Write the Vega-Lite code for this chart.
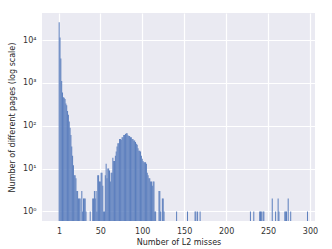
{
  "$schema": "https://vega.github.io/schema/vega-lite/v6.json",
  "width": 273,
  "height": 208,
  "autosize": "none",
  "padding": {"left": 42, "top": 13, "right": 17, "bottom": 28},
  "background": "white",
  "config": {
    "view": {"fill": "#EAEAF2", "stroke": null},
    "font": "DejaVu Sans",
    "axis": {
      "domain": false,
      "ticks": false,
      "grid": true,
      "gridColor": "white",
      "gridWidth": 1.2,
      "labelFont": "DejaVu Sans",
      "labelFontSize": 8,
      "labelColor": "#333333",
      "titleFont": "DejaVu Sans",
      "titleFontSize": 8,
      "titleFontWeight": "normal",
      "titleColor": "#262626"
    }
  },
  "data": {
    "values": [
      {"v": 1, "n": 26000}, {"v": 2, "n": 11500}, {"v": 3, "n": 3700}, {"v": 4, "n": 1100},
      {"v": 5, "n": 600}, {"v": 6, "n": 460}, {"v": 7, "n": 450}, {"v": 8, "n": 420},
      {"v": 9, "n": 330}, {"v": 10, "n": 300}, {"v": 11, "n": 220}, {"v": 12, "n": 180},
      {"v": 13, "n": 125}, {"v": 14, "n": 90}, {"v": 15, "n": 61}, {"v": 16, "n": 33},
      {"v": 17, "n": 20}, {"v": 18, "n": 12}, {"v": 19, "n": 7}, {"v": 20, "n": 7},
      {"v": 21, "n": 6}, {"v": 22, "n": 3}, {"v": 23, "n": 3}, {"v": 24, "n": 2},
      {"v": 25, "n": 2}, {"v": 26, "n": 2}, {"v": 28, "n": 3}, {"v": 29, "n": 1},
      {"v": 30, "n": 2}, {"v": 31, "n": 2}, {"v": 32, "n": 2}, {"v": 33, "n": 1},
      {"v": 38, "n": 1}, {"v": 41, "n": 2}, {"v": 42, "n": 2}, {"v": 43, "n": 3},
      {"v": 44, "n": 2}, {"v": 45, "n": 3}, {"v": 46, "n": 1}, {"v": 47, "n": 7},
      {"v": 48, "n": 7}, {"v": 49, "n": 5}, {"v": 50, "n": 5}, {"v": 51, "n": 8},
      {"v": 52, "n": 8}, {"v": 53, "n": 4}, {"v": 54, "n": 1}, {"v": 55, "n": 1},
      {"v": 56, "n": 7}, {"v": 57, "n": 13}, {"v": 58, "n": 6}, {"v": 59, "n": 10},
      {"v": 60, "n": 10}, {"v": 61, "n": 9}, {"v": 62, "n": 5}, {"v": 63, "n": 8},
      {"v": 64, "n": 8}, {"v": 65, "n": 18}, {"v": 66, "n": 15}, {"v": 67, "n": 15},
      {"v": 68, "n": 20}, {"v": 69, "n": 25}, {"v": 70, "n": 33}, {"v": 71, "n": 39},
      {"v": 72, "n": 39}, {"v": 73, "n": 49}, {"v": 74, "n": 49}, {"v": 75, "n": 47},
      {"v": 76, "n": 54}, {"v": 77, "n": 54}, {"v": 78, "n": 61}, {"v": 79, "n": 61},
      {"v": 80, "n": 64}, {"v": 81, "n": 67}, {"v": 82, "n": 67}, {"v": 83, "n": 60},
      {"v": 84, "n": 58}, {"v": 85, "n": 58}, {"v": 86, "n": 54}, {"v": 87, "n": 54},
      {"v": 88, "n": 49}, {"v": 89, "n": 49}, {"v": 90, "n": 45}, {"v": 91, "n": 45},
      {"v": 92, "n": 42}, {"v": 93, "n": 38}, {"v": 94, "n": 36}, {"v": 95, "n": 30},
      {"v": 96, "n": 26}, {"v": 97, "n": 26}, {"v": 98, "n": 25}, {"v": 99, "n": 20},
      {"v": 100, "n": 17}, {"v": 101, "n": 15}, {"v": 102, "n": 14}, {"v": 103, "n": 14},
      {"v": 104, "n": 14}, {"v": 105, "n": 13}, {"v": 106, "n": 8}, {"v": 107, "n": 7},
      {"v": 108, "n": 6}, {"v": 109, "n": 6}, {"v": 110, "n": 5}, {"v": 111, "n": 5},
      {"v": 112, "n": 4}, {"v": 113, "n": 5}, {"v": 114, "n": 5}, {"v": 115, "n": 1},
      {"v": 116, "n": 1}, {"v": 120, "n": 3}, {"v": 121, "n": 3}, {"v": 122, "n": 1},
      {"v": 124, "n": 2}, {"v": 125, "n": 2}, {"v": 126, "n": 1},
      {"v": 141, "n": 1}, {"v": 154, "n": 1}, {"v": 163, "n": 1}, {"v": 164, "n": 1},
      {"v": 166, "n": 1}, {"v": 169, "n": 1}, {"v": 229, "n": 1}, {"v": 233, "n": 1},
      {"v": 240, "n": 1}, {"v": 241, "n": 1}, {"v": 242, "n": 1}, {"v": 244, "n": 1},
      {"v": 245, "n": 1}, {"v": 255, "n": 2}, {"v": 259, "n": 1}, {"v": 262, "n": 2},
      {"v": 263, "n": 1}, {"v": 270, "n": 1}, {"v": 271, "n": 1}, {"v": 272, "n": 1},
      {"v": 274, "n": 2}, {"v": 277, "n": 1}, {"v": 297, "n": 1}
    ]
  },
  "mark": {"type": "bar", "width": 1, "color": "#5B7EBD", "clip": true},
  "encoding": {
    "x": {
      "field": "v",
      "type": "quantitative",
      "scale": {"domain": [-13.5, 300], "nice": false, "zero": false},
      "axis": {
        "values": [1, 50, 100, 150, 200, 250, 300],
        "title": "Number of L2 misses",
        "labelPadding": 6,
        "titlePadding": 3
      }
    },
    "y": {
      "field": "n",
      "type": "quantitative",
      "scale": {"type": "log", "domain": [0.6, 42700], "nice": false},
      "axis": {
        "values": [1, 10, 100, 1000, 10000],
        "labelExpr": "'10' + ['⁰','¹','²','³','⁴'][round(log(datum.value)/LN10)]",
        "title": "Number of different pages (log scale)",
        "labelPadding": 6,
        "titlePadding": 6
      }
    },
    "y2": {"datum": 0.6}
  }
}
